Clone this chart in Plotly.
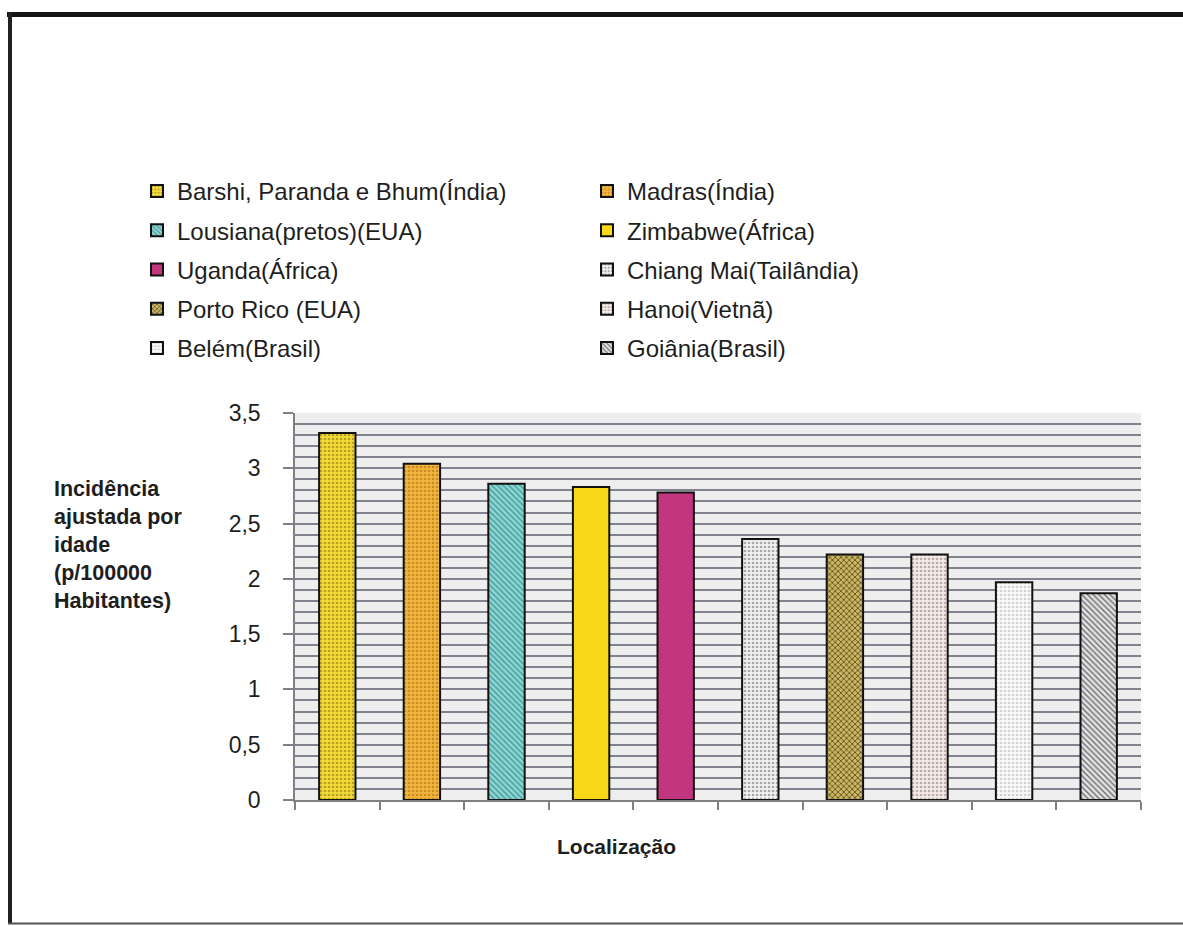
import plotly.graph_objects as go

# Age-adjusted incidence (per 100000 inhabitants) by location
locations = [
    "Barshi, Paranda e Bhum(Índia)",
    "Madras(Índia)",
    "Lousiana(pretos)(EUA)",
    "Zimbabwe(África)",
    "Uganda(África)",
    "Chiang Mai(Tailândia)",
    "Porto Rico (EUA)",
    "Hanoi(Vietnã)",
    "Belém(Brasil)",
    "Goiânia(Brasil)",
]
incidence = [3.32, 3.04, 2.86, 2.83, 2.78, 2.36, 2.22, 2.22, 1.97, 1.87]

# Fill styles per location: (background colour, pattern colour, pattern shape)
fills = [
    ("#f3dc3a", "#b9a11e", "."),
    ("#f2b53e", "#c98b22", "."),
    ("#8fd5d3", "#3f9c9a", "\\"),
    ("#f7d918", "#f7d918", ""),
    ("#c2367f", "#c2367f", ""),
    ("#f1f1f1", "#a8a8a8", "."),
    ("#cbb663", "#4f4216", "x"),
    ("#f4eae7", "#bcaeaa", "."),
    ("#f9f9f9", "#d2d2d2", "."),
    ("#e2e2e2", "#6e6e6e", "\\"),
]

W, H = 1183, 926
PL, PR, PT, PB = 295, 1141, 413, 800  # plot area in pixels


def px_x(p):
    return (p - PL) / (PR - PL)


def px_y(p):
    return (PB - p) / (PB - PT)


FONT = "Liberation Sans, Arial, sans-serif"
TXT = "#1e1e1e"
GRID = "#80828f"

fig = go.Figure()
for i, (name, val) in enumerate(zip(locations, incidence)):
    bg, fg, shape = fills[i]
    fig.add_trace(go.Bar(
        x=[name], y=[val], name=name,
        width=0.43,
        legend="legend" if i % 2 == 0 else "legend2",
        legendgroup=name,
        marker=dict(
            color=bg,
            line=dict(color="#111111", width=2),
            pattern=dict(shape=shape, bgcolor=bg, fgcolor=fg,
                         size=4, solidity=0.35, fillmode="replace"),
        ),
        hovertemplate="%{x}: %{y}<extra></extra>",
    ))

legend_common = dict(
    orientation="v",
    font=dict(family=FONT, size=24, color=TXT),
    bgcolor="rgba(0,0,0,0)",
    yanchor="top",
    y=px_y(169),
    xanchor="left",
    tracegroupgap=5,
    itemclick=False,
)

fig.update_layout(
    width=W, height=H, autosize=False,
    margin=dict(l=PL, r=W - PR, t=PT, b=H - PB),
    paper_bgcolor="white",
    plot_bgcolor="#eeeeee",
    barmode="overlay",
    separators=",.",
    showlegend=True,
    font=dict(family=FONT, color=TXT),
    legend=dict(legend_common, x=px_x(137)),
    legend2=dict(legend_common, x=px_x(587)),
    xaxis=dict(
        type="category",
        showticklabels=False,
        tickson="boundaries",
        ticks="outside", ticklen=8, tickwidth=1.5, tickcolor="#808080",
        showline=True, linecolor="#808080", linewidth=1.5,
        showgrid=False, zeroline=False,
    ),
    yaxis=dict(
        range=[0, 3.5],
        dtick=0.5,
        ticks="outside", ticklen=10, tickwidth=1.5, tickcolor="#808080",
        ticklabelstandoff=18,
        tickfont=dict(family=FONT, size=23, color=TXT),
        showline=True, linecolor="#808080", linewidth=1.5,
        showgrid=True, gridcolor=GRID, gridwidth=1.5,
        minor=dict(dtick=0.1, showgrid=True, gridcolor=GRID, gridwidth=1.5),
        zeroline=False,
    ),
    annotations=[
        dict(
            text="<b>Incidência<br>ajustada por<br>idade<br>(p/100000<br>Habitantes)</b>",
            xref="paper", yref="paper",
            x=px_x(52), y=px_y(545),
            xanchor="left", yanchor="middle", align="left",
            showarrow=False,
            font=dict(family=FONT, size=21.5, color=TXT),
        ),
        dict(
            text="<b>Localização</b>",
            xref="paper", yref="paper",
            x=px_x(616), y=px_y(846),
            xanchor="center", yanchor="middle",
            showarrow=False,
            font=dict(family=FONT, size=21, color=TXT),
        ),
    ],
    shapes=[
        # frame around the whole chart
        dict(type="line", xref="paper", yref="paper",
             x0=px_x(7), x1=px_x(1190), y0=px_y(14.5), y1=px_y(14.5),
             line=dict(color="#151515", width=5)),
        dict(type="line", xref="paper", yref="paper",
             x0=px_x(10), x1=px_x(10), y0=px_y(12), y1=px_y(924),
             line=dict(color="#202020", width=4)),
        dict(type="line", xref="paper", yref="paper",
             x0=px_x(8), x1=px_x(1190), y0=px_y(923.5), y1=px_y(923.5),
             line=dict(color="#555555", width=2)),
    ],
)

fig.write_html("out.html")
